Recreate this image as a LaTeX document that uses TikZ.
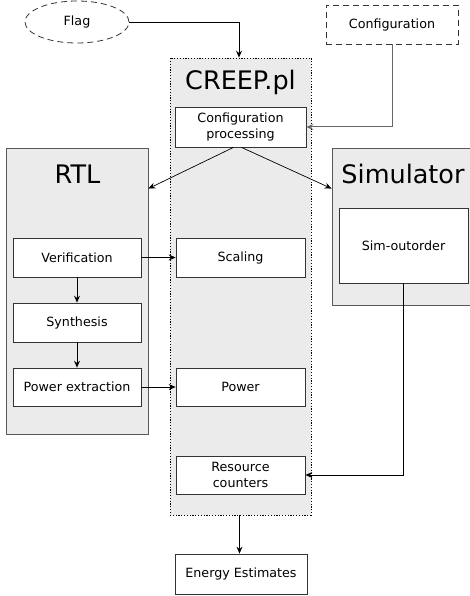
\documentclass[tikz,border=0pt]{standalone}
\usepackage{fontspec}
\setmainfont{DejaVu Sans}
\usetikzlibrary{arrows.meta,shapes.geometric}
\definecolor{panel}{HTML}{EBEBEB}
\tikzset{
  box/.style={draw=black!80, fill=white, line width=0.8pt, align=center, inner sep=1pt,
    font=\fontsize{12.7}{15.5}\selectfont},
  longdash/.style={dash pattern=on 6pt off 4pt},
  container/.style={fill=panel, draw=black!65, line width=0.9pt},
  title/.style={font=\fontsize{25.5}{30}\selectfont, inner sep=0pt},
  arr/.style={-{Stealth[length=7pt,width=6pt,inset=2.5pt]}, line width=0.7pt, draw=black},
  grayarr/.style={arr, draw=black!60, line width=1pt},
}
\begin{document}
\begin{tikzpicture}[x=1pt,y=-1pt]
\useasboundingbox (0,0) rectangle (470,596);
% containers
\node[container, draw=black, dash pattern=on 1.2pt off 1.6pt, line width=0.8pt, minimum width=141pt, minimum height=457pt] (creep) at (240.5,286.5) {};
\node[container, minimum width=141.5pt, minimum height=286pt] (rtl) at (77.25,291) {};
\node[container, minimum width=156pt, minimum height=157pt] (sim) at (410,226.5) {};
% titles
\node[title] (creept) at (240.5,82) {CREEP.pl};
\node[title] (rtlt) at (77.5,174) {RTL};
\node[title] (simt) at (403,174) {Simulator};
% inputs
\node[box, longdash, ellipse, minimum width=104pt, minimum height=42pt, inner sep=0pt] (flag) at (77,22) {Flag};
\node[box, longdash, minimum width=132pt, minimum height=39pt] (cfg) at (392,24.5) {Configuration};
% inner boxes
\node[box, minimum width=131pt, minimum height=40pt] (cp) at (240.5,127) {Configuration\\processing};
\node[box, minimum width=128pt, minimum height=39pt] (ver) at (77,257.5) {Verification};
\node[box, minimum width=128pt, minimum height=39pt] (syn) at (77,322.5) {Synthesis};
\node[box, minimum width=128pt, minimum height=38pt] (pex) at (77,387) {Power extraction};
\node[box, minimum width=129pt, minimum height=39pt] (sca) at (240.5,257.5) {Scaling};
\node[box, minimum width=129pt, minimum height=38pt] (pow) at (240.5,387) {Power};
\node[box, minimum width=129pt, minimum height=38pt] (rc) at (240.5,475) {Resource\\counters};
\node[box, minimum width=129pt, minimum height=75pt] (so) at (403.5,245.5) {Sim-outorder};
\node[box, minimum width=132pt, minimum height=40pt] (en) at (241,574) {Energy Estimates};
% coordinates
\coordinate (rtlin) at ([yshift=-41pt]rtl.north east);
\coordinate (simin) at ([yshift=-41pt]sim.north west);
% connectors
\draw[arr] (flag.east) -| ([xshift=-1.5pt]creep.north);
\draw[grayarr] (cfg.south) |- (cp.east);
\draw[arr] ([xshift=-7pt]cp.south) -- (rtlin);
\draw[arr] ([xshift=1pt]cp.south) -- (simin);
\draw[arr] (ver.east) -- (sca.west);
\draw[arr] (ver.south) -- (syn.north);
\draw[arr] (syn.south) -- (pex.north);
\draw[arr] (pex.east) -- (pow.west);
\draw[arr] (so.south) |- (rc.east);
\draw[arr] ([xshift=-1pt]creep.south) -- ([xshift=-1.5pt]en.north);
\end{tikzpicture}
\end{document}
